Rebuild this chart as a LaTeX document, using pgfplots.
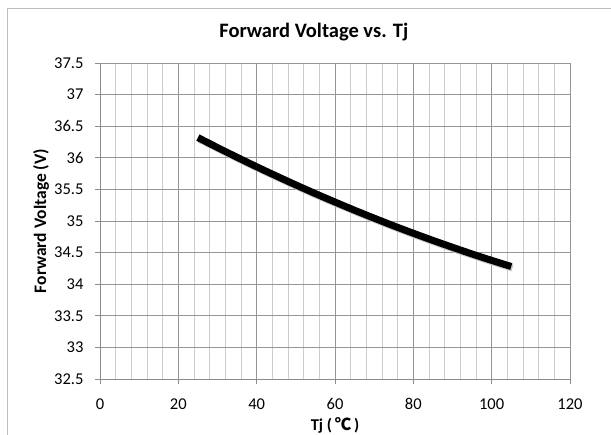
\documentclass[border=0pt]{standalone}
\usepackage{pgfplots}
\pgfplotsset{compat=1.18}
\usepackage{fontspec}
\setmainfont{Carlito}
\newfontfamily\cjk{Noto Sans CJK SC}
\definecolor{majgrid}{RGB}{150,150,150}
\definecolor{mingrid}{RGB}{205,205,205}
\definecolor{axgray}{RGB}{140,140,140}
\definecolor{frame}{RGB}{190,190,190}
\begin{document}
\begin{tikzpicture}
\useasboundingbox (-100pt,-56pt) rectangle (511pt,379pt);
\begin{scope}
\clip (-100pt,-56pt) rectangle (511pt,379pt);
\draw[frame, line width=0.8pt] (-93pt,371pt) rectangle (530pt,-80pt);
\end{scope}
\begin{axis}[
  at={(0pt,0pt)}, anchor=origin,
  width=470pt, height=316pt, scale only axis,
  xmin=0, xmax=120, ymin=32.5, ymax=37.5,
  xtick distance=20, ytick distance=0.5,
  minor x tick num=4,
  xmajorgrids, xminorgrids, ymajorgrids,
  major grid style={majgrid, line width=0.8pt},
  minor grid style={mingrid, line width=0.8pt},
  axis x line*=bottom, axis y line*=left,
  axis line style={axgray, line width=0.8pt, -},
  tick align=outside,
  major tick length=5pt, minor tick length=0pt,
  tick style={axgray, line width=0.8pt},
  /pgf/number format/assume math mode=true,
  ticklabel style={font=\fontsize{16.5}{19}\selectfont},
  yticklabel style={anchor=east, xshift=-8pt},
  xticklabel style={anchor=north, yshift=-10pt, text height=11.5pt, text depth=0pt},
  title={Forward Voltage vs. Tj},
  title style={font=\fontsize{20.5}{24}\selectfont\bfseries, at={(axis description cs:0.455,1.08)}, anchor=center},
  xlabel={Tj (\,{\cjk ℃}\,)},
  ylabel={Forward Voltage (V)},
  xlabel style={font=\fontsize{16.5}{19}\selectfont\bfseries, at={(axis description cs:0.5,-0.148)}, anchor=center},
  ylabel style={font=\fontsize{17.5}{19}\selectfont\bfseries, at={(axis description cs:-0.1255,0.5)}, anchor=center},
]
\addplot[gray!45, line width=7pt, line cap=butt, smooth, shift={(1.2pt,-1.5pt)}] coordinates {
(25,36.320) (30,36.162) (35,36.008) (40,35.858) (45,35.713) (50,35.571) (55,35.433) (60,35.300) (65,35.170) (70,35.045) (75,34.923) (80,34.806) (85,34.693) (90,34.584) (95,34.478) (100,34.377) (105,34.280)
};
\addplot[black, line width=7pt, line cap=butt, smooth] coordinates {
(25,36.320) (30,36.162) (35,36.008) (40,35.858) (45,35.713) (50,35.571) (55,35.433) (60,35.300) (65,35.170) (70,35.045) (75,34.923) (80,34.806) (85,34.693) (90,34.584) (95,34.478) (100,34.377) (105,34.280)
};
\end{axis}
\end{tikzpicture}
\end{document}
